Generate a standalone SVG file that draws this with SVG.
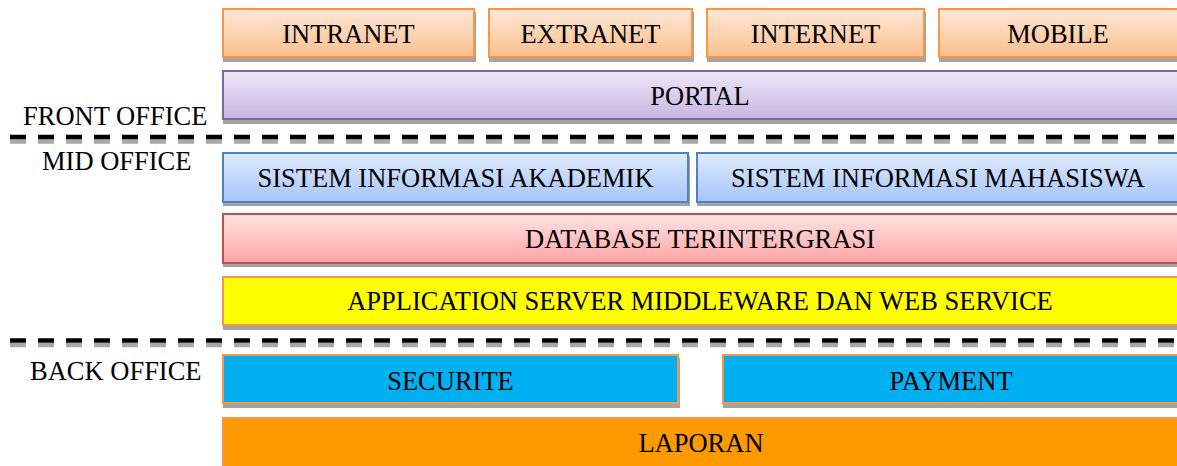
<svg xmlns="http://www.w3.org/2000/svg" width="1177" height="466" viewBox="0 0 1177 466">
  <style>
    text { font-family: "Liberation Serif", "Times New Roman", serif; font-size: 26.5px; fill: #000; }
    .c { text-anchor: middle; }
    .shadow { fill: #a3a3a3; }
    .box { stroke-width: 2; }
    .orange { fill: url(#gOrange); stroke: #f79646; }
    .purple { fill: url(#gPurple); stroke: #8064a2; }
    .blue { fill: url(#gBlue); stroke: #4f81bd; }
    .red { fill: url(#gRed); stroke: #c0504d; }
    .yellow { fill: #ffff00; stroke: #f79646; }
    .cyan { fill: #00b0f0; stroke: #f79646; }
    .laporan { fill: #ff9900; stroke: #f79646; }
    .dashBlack { stroke: #000; stroke-width: 4.5; stroke-dasharray: 16 12; fill: none; }
    .dashGray { stroke: #a8a8a8; stroke-width: 4.5; stroke-dasharray: 16 12; fill: none; }
  </style>
  <defs>
    <linearGradient id="gOrange" x1="0" y1="0" x2="0" y2="1">
      <stop offset="0" stop-color="#fee8d8"/>
      <stop offset="1" stop-color="#fbbf8c"/>
    </linearGradient>
    <linearGradient id="gPurple" x1="0" y1="0" x2="0" y2="1">
      <stop offset="0" stop-color="#eee8f7"/>
      <stop offset="1" stop-color="#c8b4e2"/>
    </linearGradient>
    <linearGradient id="gBlue" x1="0" y1="0" x2="0" y2="1">
      <stop offset="0" stop-color="#dfeafc"/>
      <stop offset="1" stop-color="#a6c5fa"/>
    </linearGradient>
    <linearGradient id="gRed" x1="0" y1="0" x2="0" y2="1">
      <stop offset="0" stop-color="#ffe3e3"/>
      <stop offset="1" stop-color="#ffa4a3"/>
    </linearGradient>
  </defs>

  <rect width="1177" height="466" fill="#ffffff"/>

  <g id="separators">
    <line class="dashGray" x1="10" y1="141.5" x2="1190" y2="141.5"/>
    <line class="dashBlack" x1="10" y1="137" x2="1190" y2="137"/>
    <line class="dashGray" x1="10" y1="345" x2="1190" y2="345"/>
    <line class="dashBlack" x1="10" y1="340.5" x2="1190" y2="340.5"/>
  </g>

  <g id="labels">
    <text x="23" y="125">FRONT OFFICE</text>
    <text x="42" y="170">MID OFFICE</text>
    <text x="30" y="380">BACK OFFICE</text>
  </g>

  <g id="intranet">
    <rect class="shadow" x="223" y="12" width="253" height="50"/>
    <rect class="box orange" x="223" y="9" width="251" height="48"/>
    <text class="c" x="348.5" y="43">INTRANET</text>
  </g>
  <g id="extranet">
    <rect class="shadow" x="489" y="12" width="205" height="50"/>
    <rect class="box orange" x="489" y="9" width="203" height="48"/>
    <text class="c" x="590.5" y="43">EXTRANET</text>
  </g>
  <g id="internet">
    <rect class="shadow" x="707" y="12" width="219" height="50"/>
    <rect class="box orange" x="707" y="9" width="217" height="48"/>
    <text class="c" x="815.5" y="43">INTERNET</text>
  </g>
  <g id="mobile">
    <rect class="shadow" x="939" y="12" width="250" height="50"/>
    <rect class="box orange" x="939" y="9" width="240" height="48"/>
    <text class="c" x="1058" y="43">MOBILE</text>
  </g>

  <g id="portal">
    <rect class="shadow" x="223" y="74" width="970" height="50"/>
    <rect class="box purple" x="223" y="71" width="956" height="48"/>
    <text class="c" x="700" y="105">PORTAL</text>
  </g>

  <g id="sia">
    <rect class="shadow" x="223" y="156" width="467" height="50"/>
    <rect class="box blue" x="223" y="153" width="465" height="49"/>
    <text class="c" x="455.5" y="187">SISTEM INFORMASI AKADEMIK</text>
  </g>
  <g id="sim">
    <rect class="shadow" x="697" y="156" width="490" height="50"/>
    <rect class="box blue" x="697" y="153" width="482" height="49"/>
    <text class="c" x="938" y="187">SISTEM INFORMASI MAHASISWA</text>
  </g>

  <g id="database">
    <rect class="shadow" x="223" y="217" width="970" height="50"/>
    <rect class="box red" x="223" y="214" width="956" height="49"/>
    <text class="c" x="700" y="248">DATABASE TERINTERGRASI</text>
  </g>

  <g id="appserver">
    <rect class="shadow" x="223" y="280" width="970" height="50"/>
    <rect class="box yellow" x="223" y="277" width="956" height="48"/>
    <text class="c" x="700" y="310">APPLICATION SERVER MIDDLEWARE DAN WEB SERVICE</text>
  </g>

  <g id="securite">
    <rect class="shadow" x="223" y="358" width="457" height="50"/>
    <rect class="box cyan" x="223" y="355" width="455" height="48"/>
    <text class="c" x="450.5" y="389.5">SECURITE</text>
  </g>
  <g id="payment">
    <rect class="shadow" x="723" y="358" width="470" height="50"/>
    <rect class="box cyan" x="723" y="355" width="456" height="48"/>
    <text class="c" x="951" y="389.5">PAYMENT</text>
  </g>

  <g id="laporan">
    <rect class="box laporan" x="223" y="418" width="956" height="60"/>
    <text class="c" x="701" y="451.5">LAPORAN</text>
  </g>
</svg>
